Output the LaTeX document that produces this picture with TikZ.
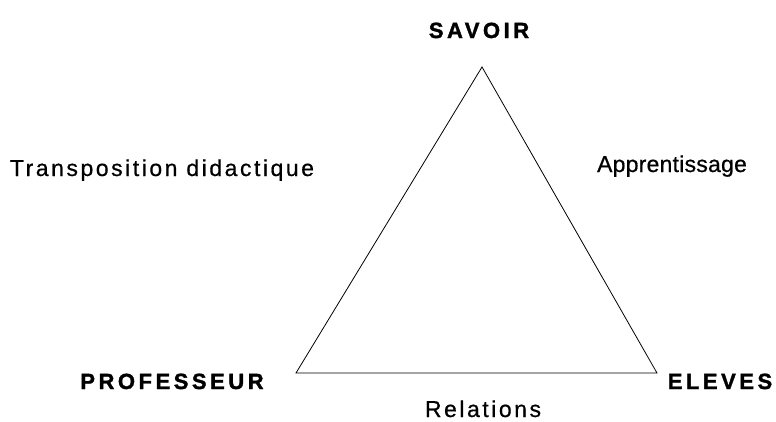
\documentclass[tikz,border=0pt]{standalone}
\usepackage{fontspec}
\setmainfont{Liberation Sans}
\newfontfamily\lblfont[LetterSpace=7,FakeBold=0.6]{Liberation Sans}
\newfontfamily\lblfontwide[LetterSpace=11,FakeBold=0.6]{Liberation Sans}
\newfontfamily\lblfontnarrow[LetterSpace=1,FakeBold=0.6]{Liberation Sans}
\newfontfamily\lblbold[LetterSpace=16,FakeBold=1.5]{Liberation Sans Bold}
\begin{document}
\begin{tikzpicture}[x=1pt,y=-1pt,
  vertexlbl/.style={anchor=base,inner sep=0pt,font=\lblbold\fontsize{22}{26}\selectfont},
  sidelbl/.style={anchor=base,inner sep=0pt,font=\lblfont\fontsize{23}{27}\selectfont},
  edge/.style={line width=0.8pt,draw=black}]
\useasboundingbox[fill=white] (0,0) rectangle (776,421);
\coordinate (S) at (482,67);
\coordinate (P) at (296,373);
\coordinate (E) at (657,373);
\draw[edge] (S) -- (E) -- (P) -- cycle;
\node[vertexlbl] (savoir) at (479,38) {SAVOIR};
\node[vertexlbl] (prof) at (172,389) {PROFESSEUR};
\node[vertexlbl] (eleves) at (720,389) {ELEVES};
\node[sidelbl,font=\lblfontwide\fontsize{23}{27}\selectfont] (transpo) at (162,176) {Transposition didactique};
\node[sidelbl,font=\lblfontnarrow\fontsize{23}{27}\selectfont] (appr) at (672,172) {Apprentissage};
\node[sidelbl,font=\lblfontwide\fontsize{23}{27}\selectfont] (rel) at (483,417) {Relations};
\end{tikzpicture}
\end{document}
